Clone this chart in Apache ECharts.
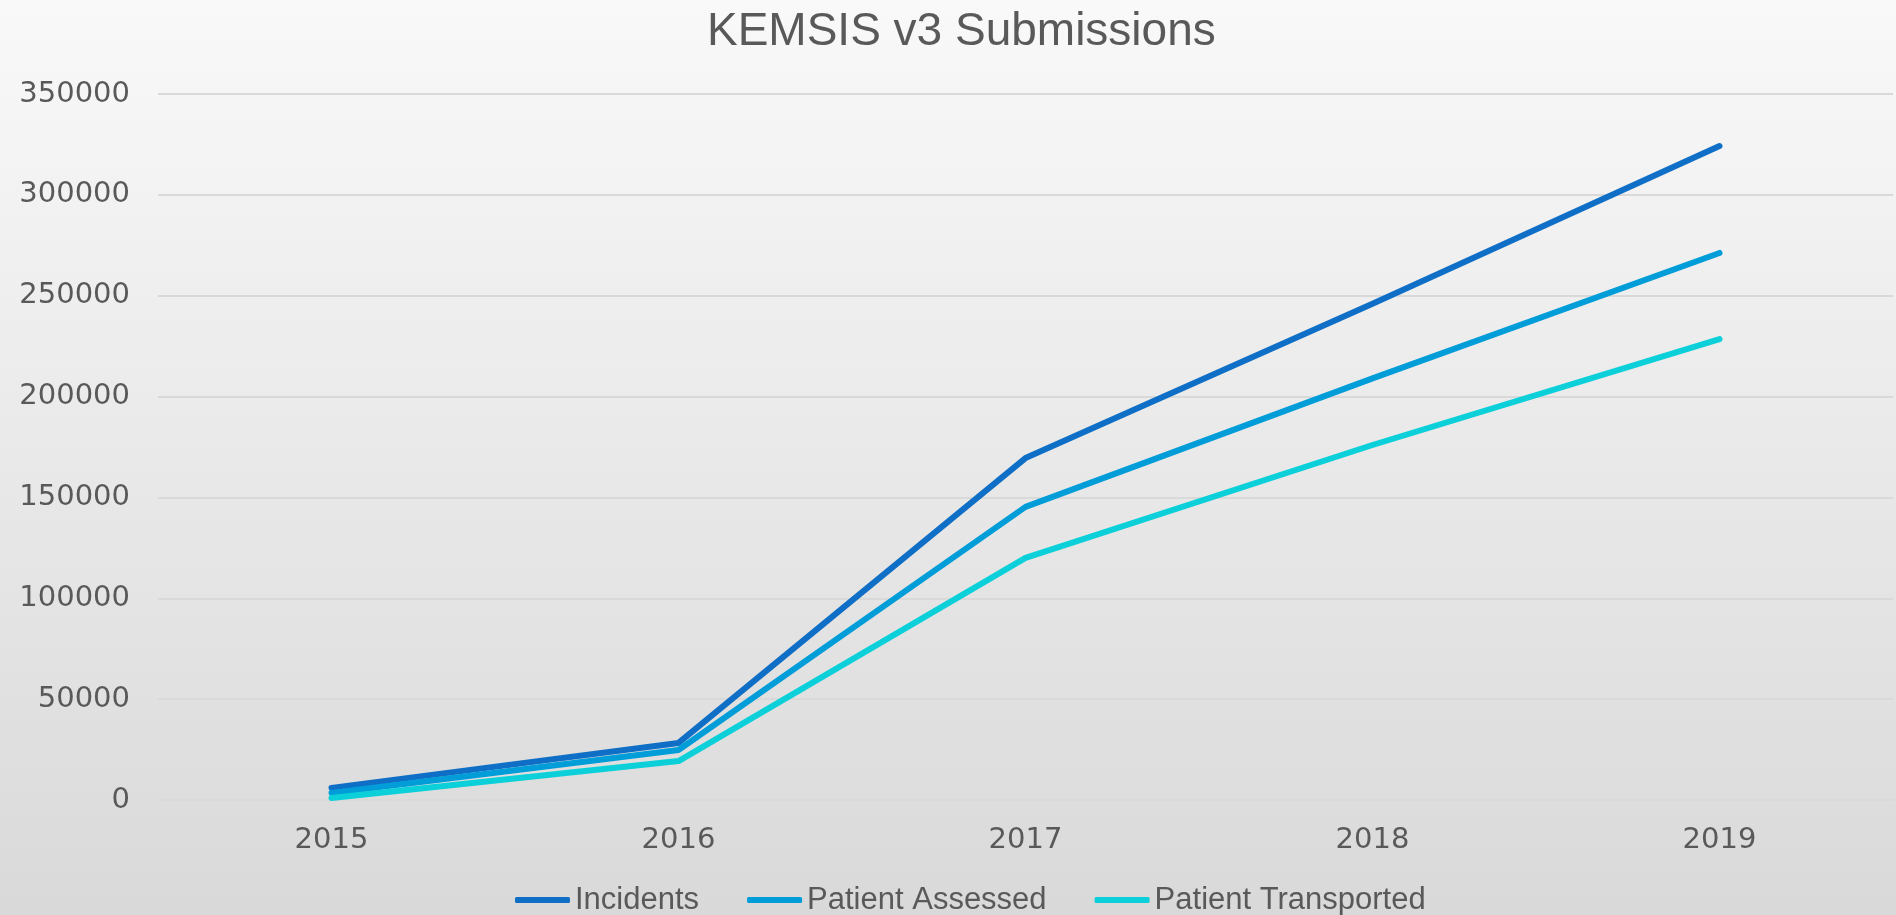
<!DOCTYPE html>
<html>
<head>
<meta charset="utf-8">
<title>KEMSIS v3 Submissions</title>
<script src="https://cdn.jsdelivr.net/npm/echarts@6/dist/echarts.min.js"></script>
<style>
  html, body { margin: 0; padding: 0; }
  #chart { width: 1896px; height: 915px; }
</style>
</head>
<body>
<div id="chart"></div>
<script>
// data
const years = ["2015", "2016", "2017", "2018", "2019"];
const incidents = [6000, 28300, 169500, 246000, 324200];
const patientAssessed = [3500, 24800, 145300, 209000, 271200];
const patientTransported = [1000, 19300, 120000, 176000, 228500];

const textColor = "#595959";
const seriesColors = ["#0F6FC6", "#009DD9", "#0BD0D9"];

const chart = echarts.init(document.getElementById("chart"));

function lineSeries(name, data, color) {
  return {
    name: name,
    type: "line",
    data: data,
    symbol: "none",
    itemStyle: { color: color },
    lineStyle: { color: color, width: 6, cap: "round", join: "round" },
    animation: false,
  };
}

chart.setOption({
  backgroundColor: new echarts.graphic.LinearGradient(0, 0, 0, 1, [
    { offset: 0, color: "#f9f9f9" },
    { offset: 1, color: "#d9d9d9" },
  ]),
  color: seriesColors,
  title: {
    text: "KEMSIS v3 Submissions",
    left: 707,
    top: 9,
    padding: 0,
    textStyle: {
      fontFamily: "Liberation Sans",
      fontSize: 46,
      fontWeight: "normal",
      color: textColor,
    },
  },
  legend: {
    data: ["Incidents", "Patient Assessed", "Patient Transported"],
    left: 515,
    top: 884,
    padding: 0,
    itemGap: 48,
    itemWidth: 55,
    itemHeight: 6,
    icon: "roundRect",
    textStyle: {
      fontFamily: "Liberation Sans",
      fontSize: 31,
      lineHeight: 32,
      color: textColor,
    },
  },
  grid: {
    left: 158,
    right: 3,
    top: 94,
    bottom: 115,
    containLabel: false,
  },
  xAxis: {
    type: "category",
    data: years,
    boundaryGap: true,
    axisLine: { show: false },
    axisTick: { show: false },
    axisLabel: {
      margin: 26,
      fontFamily: "DejaVu Sans",
      fontSize: 29,
      color: textColor,
    },
  },
  yAxis: {
    type: "value",
    min: 0,
    max: 350000,
    interval: 50000,
    axisLine: { show: false },
    axisTick: { show: false },
    axisLabel: {
      margin: 28,
      fontFamily: "DejaVu Sans",
      fontSize: 29,
      color: textColor,
      formatter: (v) => String(v),
    },
    splitLine: {
      lineStyle: { color: "#d9d9d9", width: 2 },
    },
  },
  series: [
    lineSeries("Incidents", incidents, seriesColors[0]),
    lineSeries("Patient Assessed", patientAssessed, seriesColors[1]),
    lineSeries("Patient Transported", patientTransported, seriesColors[2]),
  ],
});
</script>
</body>
</html>
